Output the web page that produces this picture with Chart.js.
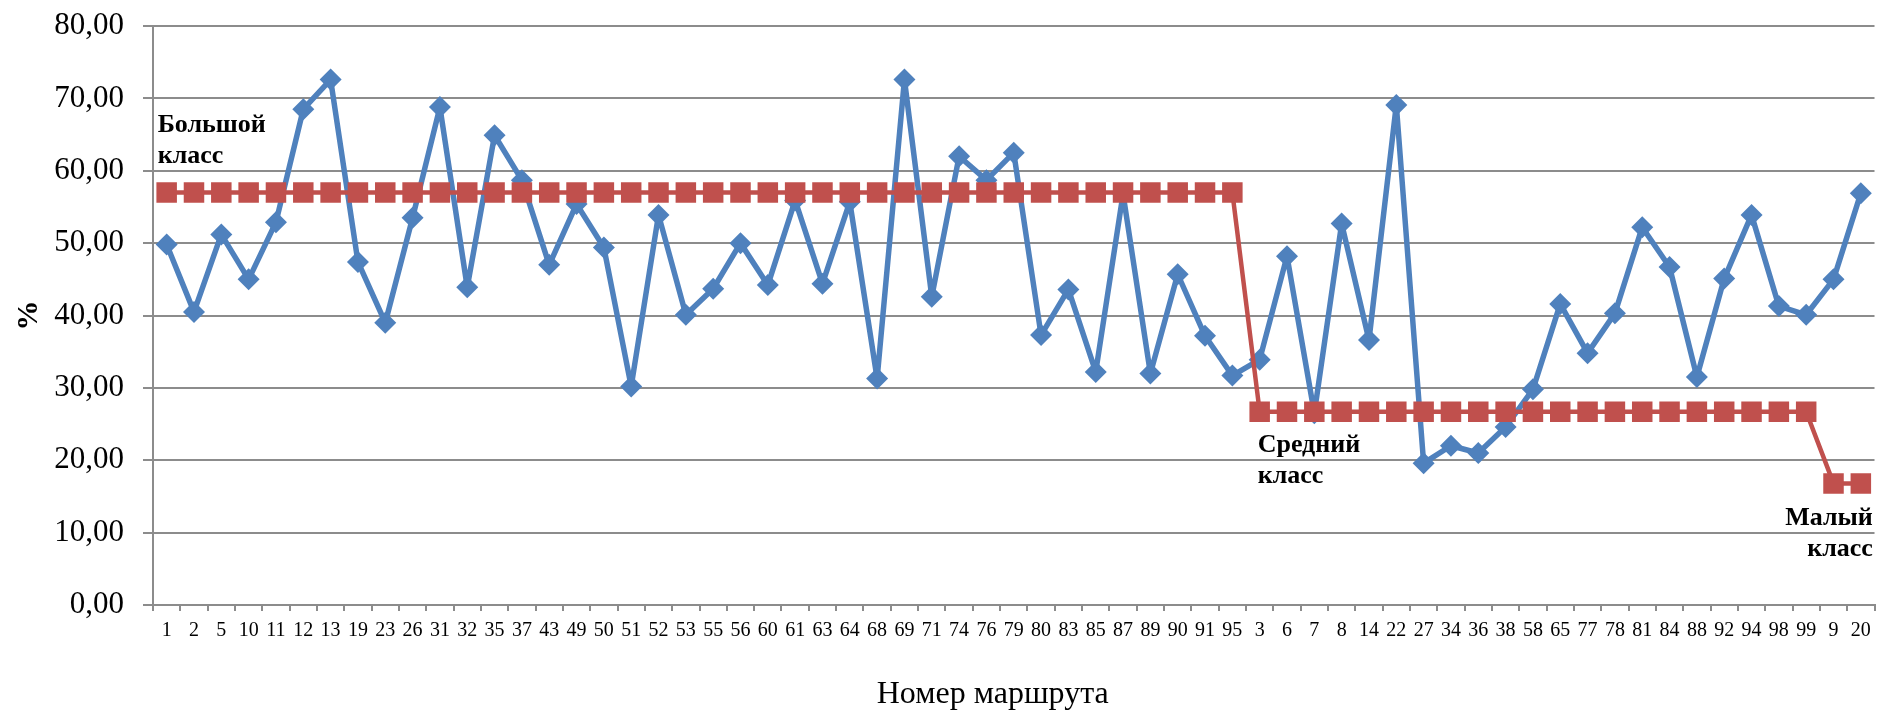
<!DOCTYPE html>
<html><head><meta charset="utf-8">
<script src="https://cdn.jsdelivr.net/npm/chart.js@4.4.0/dist/chart.umd.min.js"></script>
<style>html,body{margin:0;padding:0;background:#fff;overflow:hidden}</style>
</head><body>
<canvas id="c" width="1889" height="711"></canvas>
<script>
// ---- data ----
const routes = ['1','2','5','10','11','12','13','19','23','26','31','32','35','37','43','49','50','51','52','53','55','56','60','61','63','64','68','69','71','74','76','79','80','83','85','87','89','90','91','95','3','6','7','8','14','22','27','34','36','38','58','65','77','78','81','84','88','92','94','98','99','9','20'];
const routeShare = [49.8,40.5,51.2,45.0,52.9,68.5,72.6,47.4,39.0,53.5,68.8,43.9,64.9,58.7,47.0,55.4,49.4,30.2,53.9,40.1,43.7,50.0,44.2,55.9,44.4,55.7,31.3,72.6,42.6,62.0,58.7,62.5,37.3,43.6,32.2,56.8,32.0,45.7,37.2,31.7,33.9,48.2,26.5,52.7,36.6,69.1,19.6,22.0,21.0,24.6,29.8,41.6,34.8,40.3,52.2,46.7,31.5,45.1,53.9,41.3,40.1,45.0,56.9];
const classLevel = [57.0,57.0,57.0,57.0,57.0,57.0,57.0,57.0,57.0,57.0,57.0,57.0,57.0,57.0,57.0,57.0,57.0,57.0,57.0,57.0,57.0,57.0,57.0,57.0,57.0,57.0,57.0,57.0,57.0,57.0,57.0,57.0,57.0,57.0,57.0,57.0,57.0,57.0,57.0,57.0,26.7,26.7,26.7,26.7,26.7,26.7,26.7,26.7,26.7,26.7,26.7,26.7,26.7,26.7,26.7,26.7,26.7,26.7,26.7,26.7,26.7,16.8,16.8];
const classNames = [['Большой','класс'],['Средний','класс'],['Малый','класс']];
const classStartIndex = [0, 40, 62];
const yMin = 0, yMax = 80, yStep = 10;
const xTitle = 'Номер маршрута';
const yTitle = '%';

const SERIF = '"Liberation Serif","Times New Roman",serif';

const annotPlugin = {
  id: 'annot',
  afterDatasetsDraw(chart) {
    const ctx = chart.ctx, xs = chart.scales.x, ys = chart.scales.y;
    ctx.save();
    ctx.fillStyle = '#000';
    ctx.font = 'bold 26px ' + SERIF;
    ctx.textBaseline = 'alphabetic';
    let i = classStartIndex[0];
    let px = xs.getPixelForValue(i) - 9, py = ys.getPixelForValue(classLevel[i]);
    ctx.textAlign = 'left';
    ctx.fillText(classNames[0][0], px, py - 60);
    ctx.fillText(classNames[0][1], px, py - 29);
    i = classStartIndex[1];
    px = xs.getPixelForValue(i) - 2; py = ys.getPixelForValue(classLevel[i]);
    ctx.fillText(classNames[1][0], px, py + 40);
    ctx.fillText(classNames[1][1], px, py + 71);
    i = classStartIndex[2];
    px = xs.getPixelForValue(routes.length - 1) + 12; py = ys.getPixelForValue(classLevel[i]);
    ctx.textAlign = 'right';
    ctx.fillText(classNames[2][0], px, py + 42);
    ctx.fillText(classNames[2][1], px, py + 73);
    // x-axis title
    const ca = chart.chartArea;
    ctx.font = '32px ' + SERIF;
    ctx.textAlign = 'center';
    ctx.fillText(xTitle, (ca.left + ca.right) / 2 - 21, chart.height - 8);
    ctx.restore();
  }
};

new Chart(document.getElementById('c'), {
  type: 'line',
  data: {
    labels: routes,
    datasets: [
      {
        data: routeShare,
        borderColor: '#4F81BD',
        backgroundColor: '#4F81BD',
        borderWidth: 5.5,
        borderJoinStyle: 'round',
        pointStyle: 'rectRot',
        pointRadius: 11,
        pointHoverRadius: 0,
        pointBorderWidth: 0,
        pointBackgroundColor: '#4F81BD',
        tension: 0,
        order: 1
      },
      {
        data: classLevel,
        borderColor: '#C0504D',
        backgroundColor: '#C0504D',
        borderWidth: 4.5,
        borderJoinStyle: 'round',
        pointStyle: 'rect',
        pointRadius: 14.5,
        pointHoverRadius: 0,
        pointBorderWidth: 0,
        pointBackgroundColor: '#C0504D',
        tension: 0,
        order: 0
      }
    ]
  },
  options: {
    responsive: false,
    animation: false,
    devicePixelRatio: 1,
    layout: { padding: { left: 0, right: 4, top: 26, bottom: 0 } },
    plugins: { legend: { display: false }, tooltip: { enabled: false } },
    scales: {
      x: {
        offset: true,
        grid: { offset: true, drawOnChartArea: false, drawTicks: true, tickLength: 6, color: '#8c8c8c', lineWidth: 2 },
        border: { display: true, color: '#8c8c8c', width: 2 },
        ticks: { autoSkip: false, maxRotation: 0, minRotation: 0, padding: 8, color: '#000', font: { family: SERIF, size: 20 } },
        title: { display: false },
        afterFit(s) { s.height = 106; s.paddingLeft = 0; s.paddingRight = 0; }
      },
      y: {
        min: yMin, max: yMax,
        grid: { color: '#8c8c8c', lineWidth: 2, drawTicks: true, tickLength: 10 },
        border: { display: true, color: '#8c8c8c', width: 2 },
        ticks: { stepSize: yStep, padding: 19, color: '#000', font: { family: SERIF, size: 31 },
          callback: v => v.toFixed(2).replace('.', ',') },
        title: { display: true, text: yTitle, color: '#000', font: { family: SERIF, size: 30, weight: 'bold' }, padding: { top: 11, bottom: 0 } },
        afterFit(s) { s.width = 153; s.paddingTop = 0; s.paddingBottom = 0; }
      }
    }
  },
  plugins: [annotPlugin]
});
</script>
</body></html>
